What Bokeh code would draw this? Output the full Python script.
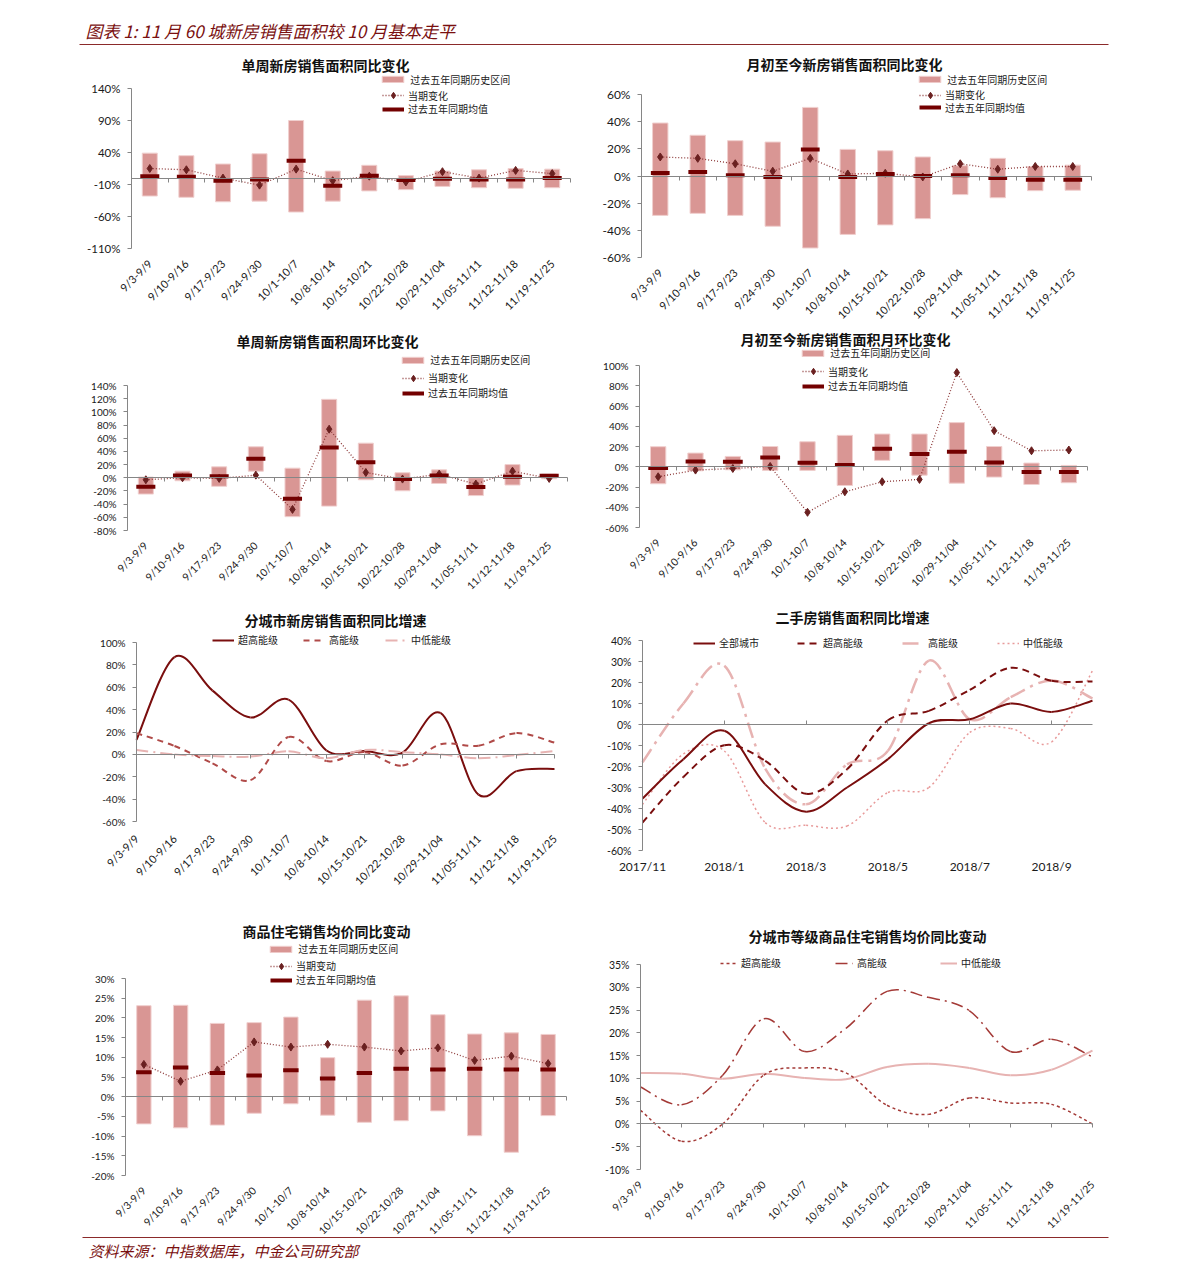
import numpy as np
from bokeh.plotting import figure
from bokeh.models import (Range1d, FixedTicker, LinearAxis, CustomJSTickFormatter,
                          Legend, LegendItem, Label)
from bokeh.layouts import column, row
from bokeh.embed import file_html
from bokeh.resources import INLINE
from bokeh.core.properties import value

# ---------------- data ----------------
weeks = ["9/3-9/9", "9/10-9/16", "9/17-9/23", "9/24-9/30", "10/1-10/7", "10/8-10/14",
         "10/15-10/21", "10/22-10/28", "10/29-11/04", "11/05-11/11", "11/12-11/18", "11/19-11/25"]
months = ["2017/11", "2017/12", "2018/1", "2018/2", "2018/3", "2018/4",
          "2018/5", "2018/6", "2018/7", "2018/8", "2018/9", "2018/10"]

# 单周新房销售面积同比变化 (%)
p1_high = [39, 35, 22, 38, 90, 11, 20, 4, 11, 13, 15, 14]
p1_low = [-28, -30, -37, -36, -53, -36, -20, -18, -13, -15, -16, -15]
p1_mean = [3, 2, -4, -2, 27, -12, 3.5, -3, -1, -2, -2, 0]
p1_cur = [15, 13, 0, -11, 14, -4, 3, -6, 10, 0, 12, 7]

# 月初至今新房销售面积同比变化 (%)
p2_high = [39, 30, 26, 25, 50.5, 19.6, 18.6, 14, 7.6, 13, 7, 8]
p2_low = [-29, -27.5, -29, -37, -53, -43, -36, -31.4, -13.7, -16, -10.8, -10.5]
p2_mean = [2.2, 3, 0.5, -0.7, 19.6, -0.7, 1.5, 0, 0.5, -1.5, -2.7, -2.7]
p2_cur = [14, 13, 9, 3.5, 13, 1.5, 2, -0.7, 9, 5, 7, 7]

# 单周新房销售面积周环比变化 (%)
p3_high = [1, 10, 16.6, 47, 14.6, 119, 52.5, 7.6, 12, 0, 20, 5.5]
p3_low = [-24.7, -4.5, -13, 10, -59, -43, -3, -19.7, -8.6, -27, -11, -1.5]
p3_mean = [-13.6, 3.5, 2.5, 28.8, -31.8, 46, 23.7, -2, 3.5, -14, 1.5, 3]
p3_cur = [-3, 0, -1, 4, -48, 73.7, 8, -2, 5.5, -9.6, 10, -1]

# 月初至今新房销售面积月环比变化 (%)
p4_high = [19.8, 13.5, 10.2, 20, 24.7, 31, 32.3, 32.3, 43.6, 20, 3.6, 1.3]
p4_low = [-16.8, -4, -3, -3.6, -3.6, -18.5, 6.3, -8.3, -16.2, -10.2, -17.5, -15.8]
p4_mean = [-1.3, 5.3, 5, 9.2, 4, 1.7, 17.8, 12.5, 14.9, 4.3, -5.3, -5.3]
p4_cur = [-9.9, -3.3, -1.7, 0.3, -45, -24.7, -14.8, -12.5, 93, 35.6, 15.8, 16.5]

# 分城市新房销售面积同比增速 (%)
p5_super = [13, 87, 57, 33, 49, 3.5, 3, 1.5, 37, -36, -15, -13]
p5_high = [19, 7.5, -8, -23, 15.5, -6, 2, -10, 9, 7.7, 19, 10.5]
p5_midlow = [4, 0, -1.5, -2, 2.7, -3.5, 4, 2, 0, -3.5, -0.6, 3]

# 二手房销售面积同比增速 (%)
p6_all = [-35.3, -16.5, -3, -28.5, -41.5, -30, -16.5, 0.6, 2.5, 10, 6, 11.3]
p6_super = [-46.7, -25, -9.9, -17.3, -33, -21.3, 2, 6.5, 16.5, 27, 20.8, 20.5]
p6_high = [-18, 10, 28, -21, -38, -19, -12.5, 30.4, 2.5, 13, 21, 12.4]
p6_midlow = [-38, -14, -12.6, -46.7, -48, -48.3, -32.4, -30, -3.8, -1.9, -8.3, 25.6]

# 商品住宅销售均价同比变动 (%)
p7_high = [23.1, 23.2, 18.6, 18.8, 20.2, 9.9, 24.5, 25.6, 20.8, 15.9, 16.2, 15.8]
p7_low = [-6.9, -7.9, -7.2, -4.2, -1.8, -4.7, -6.5, -6.1, -3.6, -9.9, -14.1, -4.8]
p7_mean = [6.2, 7.4, 6.0, 5.4, 6.7, 4.6, 6.0, 7.1, 6.9, 7.1, 6.9, 6.9]
p7_cur = [8.2, 3.9, 6.8, 13.9, 12.6, 13.3, 12.6, 11.6, 12.4, 9.2, 10.3, 8.4]

# 分城市等级商品住宅销售均价同比变动 (%)
p8_super = [3, -3.8, 0, 10.7, 12.3, 11.2, 4.1, 2.1, 5.7, 4.6, 4.3, 0]
p8_high = [8.1, 4.2, 10.7, 23.1, 15.9, 21, 29.1, 27.8, 24.9, 15.9, 18.6, 14.7]
p8_midlow = [11.2, 11, 9.9, 11, 10.1, 9.8, 12.5, 13.2, 12.3, 10.7, 11.9, 16.1]

# ---------------- styles ----------------
FN = "Lato"
FC = "Noto Sans CJK SC"
GRAY = "#868686"
TXT = "#1a1a1a"
RANGE_FILL = "#D99694"
RANGE_LINE = "#F0CFCE"
MEAN_C = "#730000"
CUR_LINE = "#8E3B3B"
CUR_MARK = "#6A2020"
DARK = "#7A0E0E"
MID = "#B04A48"
LIGHT = "#E7B3B2"
HEAD_C = "#7A1010"

LEFT_X, RIGHT_X = 0, 590
LEFT_W, RIGHT_W = 590, 520
TOTAL_W = 1110


class Geo:
    """pixel geometry of one panel (page coordinates); the frame fills the whole figure"""
    def __init__(self, fx, fy, W, H, fl, fr, ft, fb, x_end, ylo, yhi):
        self.fx, self.fy, self.W, self.H = fx, fy, W, H
        self.fl, self.fr, self.ft, self.fb = fl, fr, ft, fb
        self.x_end, self.ylo, self.yhi = x_end, ylo, yhi
        self.scale = (fb - ft) / (yhi - ylo)
        self.xscale = (fr - fl) / x_end
        self.ft_ext = fy + 2
        self.fb_ext = fy + H - 2
        self.fl_ext = fx + 2
        self.fr_ext = fx + W - 2
        self.yhi_ext = yhi + (ft - self.ft_ext) / self.scale
        self.ylo_ext = ylo - (self.fb_ext - fb) / self.scale
        self.x_start = -(fl - self.fl_ext) / self.xscale
        self.x_stop = x_end + (self.fr_ext - fr) / self.xscale

    def xd(self, px):
        return (px - self.fl) / self.xscale

    def yd(self, py):
        return self.ylo + (self.fb - py) / self.scale


def base(g, title, tcx, tcy, yticks, yfs):
    p = figure(width=g.W, height=g.H, title=None,
               x_range=Range1d(g.x_start, g.x_stop), y_range=Range1d(g.ylo_ext, g.yhi_ext),
               output_backend="svg", toolbar_location=None,
               x_axis_type=None, y_axis_type=None,
               min_border_left=2, min_border_right=2,
               min_border_top=2, min_border_bottom=2,
               outline_line_color=None, background_fill_color="white",
               border_fill_color="white")
    ya = LinearAxis(fixed_location=0, ticker=FixedTicker(ticks=yticks), bounds=(g.ylo, g.yhi),
                    formatter=CustomJSTickFormatter(code="return tick + '%';"),
                    axis_line_color=GRAY, major_tick_line_color=GRAY,
                    minor_tick_line_color=None, major_tick_out=4, major_tick_in=0,
                    major_label_text_font=FN, major_label_text_font_size=yfs,
                    major_label_text_color=TXT, major_label_standoff=7)
    p.add_layout(ya, "left")
    p.add_layout(Label(x=g.xd(tcx), y=g.yd(tcy), text=title, text_align="center",
                       text_baseline="middle", text_font=FC, text_font_size="14px",
                       text_font_style="bold", text_color="#111111"))
    return p


def zero_axis(p, g, ticks, up=False):
    ax = LinearAxis(fixed_location=0, ticker=FixedTicker(ticks=ticks), bounds=(0, g.x_end),
                    formatter=CustomJSTickFormatter(code="return '';"),
                    axis_line_color=GRAY, major_tick_line_color=GRAY,
                    minor_tick_line_color=None,
                    major_tick_in=0 if up else 4, major_tick_out=4 if up else 0,
                    major_label_standoff=0, major_label_text_font_size="1px")
    p.add_layout(ax, "above")


def x_labels(p, g, ticks, labels, rotate=True, fs="11px", gap=13):
    yl = g.yd(g.fb + gap)
    if rotate:
        p.text(x=ticks, y=[yl] * len(ticks), text=labels, angle=np.pi / 4,
               text_align="right", text_baseline="middle", text_font=value(FN),
               text_font_size=fs, text_color=TXT)
    else:
        p.text(x=ticks, y=[yl] * len(ticks), text=labels,
               text_align="center", text_baseline="middle", text_font=value(FN),
               text_font_size=fs, text_color=TXT)


def add_leg(p, g, label, rends, gx, cy, gw=22, gh=10, fs="10px"):
    h = max(gh, 12)
    leg = Legend(items=[LegendItem(label=label, renderers=rends)],
                 location=(gx - g.fl_ext, g.fb_ext - cy - h / 2),
                 glyph_width=gw, glyph_height=gh, label_height=12, label_width=10,
                 label_standoff=4, padding=0, margin=0, spacing=0,
                 border_line_color=None, background_fill_alpha=0,
                 label_text_font=FC, label_text_font_size=fs,
                 label_text_color="#222222", label_text_baseline="middle")
    p.add_layout(leg, "center")


def bar_panel(p, g, high, low, mean, cur, cur_label, bw, mw, gx, ys, xfs="11px"):
    xs = np.arange(len(high)) + 0.5
    r_bar = p.vbar(x=xs, top=high, bottom=low, width=bw, fill_color=RANGE_FILL,
                   line_color=RANGE_LINE, line_width=1)
    r_line = p.line(xs, cur, line_color=CUR_LINE, line_width=1.3, line_dash="1 2")
    r_pt = p.scatter(xs, cur, marker="diamond", size=8, fill_color=CUR_MARK, line_color=CUR_MARK)
    r_mean = p.segment(x0=xs - mw / 2, y0=mean, x1=xs + mw / 2, y1=mean,
                       line_color=MEAN_C, line_width=4)
    zero_axis(p, g, list(range(len(high) + 1)))
    x_labels(p, g, list(xs), weeks, fs=xfs)
    add_leg(p, g, "过去五年同期历史区间", [r_bar], gx - 2.7, ys[0], gw=27, gh=8)
    add_leg(p, g, cur_label, [r_line, r_pt], gx, ys[1], gw=22, gh=16)
    add_leg(p, g, "过去五年同期均值", [r_mean], gx, ys[2], gw=22, gh=10)


def smooth(p, xs, ys, **kw):
    x = np.asarray(xs, float)
    y = np.asarray(ys, float)
    n = len(x)
    xp = np.concatenate([[x[0]], x, [x[-1]]])
    yp = np.concatenate([[y[0]], y, [y[-1]]])
    cx0 = x[:-1] + (x[1:] - xp[:n - 1]) / 6
    cy0 = y[:-1] + (y[1:] - yp[:n - 1]) / 6
    cx1 = x[1:] - (xp[3:] - x[:-1]) / 6
    cy1 = y[1:] - (yp[3:] - y[:-1]) / 6
    return p.bezier(x0=x[:-1], y0=y[:-1], x1=x[1:], y1=y[1:],
                    cx0=cx0, cy0=cy0, cx1=cx1, cy1=cy1, **kw)


# ---------------- header ----------------
hdr = figure(width=TOTAL_W, height=50, x_range=Range1d(0, TOTAL_W), y_range=Range1d(0, 50),
             output_backend="svg", toolbar_location=None, x_axis_type=None, y_axis_type=None,
             min_border=0, outline_line_color=None, title=None)
hdr.text(x=[85], y=[20], text=["图表 1: 11 月 60 城新房销售面积较 10 月基本走平"],
         text_font=value(FC), text_font_style="italic", text_font_size="17px",
         text_color=HEAD_C, text_baseline="middle")
hdr.segment(x0=[79], y0=[6], x1=[1108], y1=[6], line_color="#8B2A2A", line_width=1)

# ---------------- row 1 ----------------
g1 = Geo(LEFT_X, 50, LEFT_W, 275, 131, 570, 88, 248, 12, -110, 140)
p1 = base(g1, "单周新房销售面积同比变化", 325, 64, [140, 90, 40, -10, -60, -110], "11.5px")
bar_panel(p1, g1, p1_high, p1_low, p1_mean, p1_cur, "当期变化", 0.41, 0.52, 382, [80.5, 95, 110])

g2 = Geo(RIGHT_X, 50, RIGHT_W, 275, 641, 1091, 94, 257, 12, -60, 60)
p2 = base(g2, "月初至今新房销售面积同比变化", 844, 63, [60, 40, 20, 0, -20, -40, -60], "12px")
bar_panel(p2, g2, p2_high, p2_low, p2_mean, p2_cur, "当期变化", 0.41, 0.5, 919, [80.5, 94.5, 108.5])

# ---------------- row 2 ----------------
g3 = Geo(LEFT_X, 325, LEFT_W, 275, 127, 567, 385, 530, 12, -80, 140)
p3 = base(g3, "单周新房销售面积周环比变化", 327, 340, list(range(140, -81, -20)), "10px")
bar_panel(p3, g3, p3_high, p3_low, p3_mean, p3_cur, "当期变化", 0.41, 0.52, 402, [361, 377.7, 394.3],
          xfs="10.5px")

g4 = Geo(RIGHT_X, 325, RIGHT_W, 275, 639, 1087, 365, 527, 12, -60, 100)
p4 = base(g4, "月初至今新房销售面积月环比变化", 845, 338, list(range(100, -61, -20)), "10px")
bar_panel(p4, g4, p4_high, p4_low, p4_mean, p4_cur, "当期变化", 0.41, 0.53, 802, [354.3, 371, 387],
          xfs="10.5px")

# ---------------- row 3 ----------------
g5 = Geo(LEFT_X, 600, LEFT_W, 300, 136, 554, 642, 821, 11, -60, 100)
p5 = base(g5, "分城市新房销售面积同比增速", 335, 619, list(range(100, -61, -20)), "10px")
xs5 = np.arange(len(weeks))
zero_axis(p5, g5, list(xs5))
x_labels(p5, g5, list(xs5), weeks, gap=15)
r5a = smooth(p5, xs5, p5_super, line_color=DARK, line_width=2)
r5b = smooth(p5, xs5, p5_high, line_color=MID, line_width=2, line_dash="6 5")
r5c = smooth(p5, xs5, p5_midlow, line_color=LIGHT, line_width=2, line_dash="12 5 2 5")
add_leg(p5, g5, "超高能级", [r5a], 212, 641)
add_leg(p5, g5, "高能级", [r5b], 303, 641)
add_leg(p5, g5, "中低能级", [r5c], 385, 641)

g6 = Geo(RIGHT_X, 600, RIGHT_W, 300, 642, 1092, 640, 850, 11, -60, 40)
p6 = base(g6, "二手房销售面积同比增速", 852, 616, list(range(40, -61, -10)), "10.5px")
xs6 = np.arange(len(months))
zero_axis(p6, g6, list(range(0, 12, 2)), up=True)
x_labels(p6, g6, list(range(0, 12, 2)), months[::2], rotate=False, fs="12px", gap=16)
r6d = smooth(p6, xs6, p6_midlow, line_color="#E89A9A", line_width=1.5, line_dash="2 3")
r6c = smooth(p6, xs6, p6_high, line_color=LIGHT, line_width=2.5, line_dash="16 6 3 6")
r6b = smooth(p6, xs6, p6_super, line_color=DARK, line_width=2, line_dash="7 5")
r6a = smooth(p6, xs6, p6_all, line_color=DARK, line_width=2)
add_leg(p6, g6, "全部城市", [r6a], 693, 644)
add_leg(p6, g6, "超高能级", [r6b], 797, 644)
add_leg(p6, g6, "高能级", [r6c], 902, 644)
add_leg(p6, g6, "中低能级", [r6d], 997, 644)

# ---------------- row 4 ----------------
g7 = Geo(LEFT_X, 900, LEFT_W, 336, 125, 566, 978, 1175, 12, -20, 30)
p7 = base(g7, "商品住宅销售均价同比变动", 326, 930, list(range(30, -21, -5)), "10px")
bar_panel(p7, g7, p7_high, p7_low, p7_mean, p7_cur, "当期变动", 0.39, 0.42, 270, [950, 965.7, 981],
          xfs="10.5px")

g8 = Geo(RIGHT_X, 900, RIGHT_W, 336, 640, 1092, 964, 1169, 11, -10, 35)
p8 = base(g8, "分城市等级商品住宅销售均价同比变动", 867, 935, list(range(35, -11, -5)), "10.5px")
xs8 = np.arange(len(weeks))
zero_axis(p8, g8, list(xs8))
x_labels(p8, g8, list(xs8), weeks, fs="10.5px")
r8c = smooth(p8, xs8, p8_midlow, line_color=LIGHT, line_width=2)
r8b = smooth(p8, xs8, p8_high, line_color="#A43A37", line_width=1.5, line_dash="12 5 2 5")
r8a = smooth(p8, xs8, p8_super, line_color="#A43A37", line_width=1.5, line_dash="3 3")
add_leg(p8, g8, "超高能级", [r8a], 720, 964, gw=17)
add_leg(p8, g8, "高能级", [r8b], 835, 964, gw=18)
add_leg(p8, g8, "中低能级", [r8c], 940, 964, gw=17)

# ---------------- footer ----------------
ftr = figure(width=TOTAL_W, height=43, x_range=Range1d(0, TOTAL_W), y_range=Range1d(0, 43),
             output_backend="svg", toolbar_location=None, x_axis_type=None, y_axis_type=None,
             min_border=0, outline_line_color=None, title=None)
ftr.segment(x0=[82], y0=[42], x1=[1108], y1=[42], line_color="#8B2A2A", line_width=1)
ftr.text(x=[88], y=[29], text=["资料来源：中指数据库，中金公司研究部"],
         text_font=value(FC), text_font_style="italic", text_font_size="15px",
         text_color=HEAD_C, text_baseline="middle")

layout = column(hdr, row(p1, p2), row(p3, p4), row(p5, p6), row(p7, p8), ftr)
open("out.html", "w").write(file_html(layout, INLINE))
